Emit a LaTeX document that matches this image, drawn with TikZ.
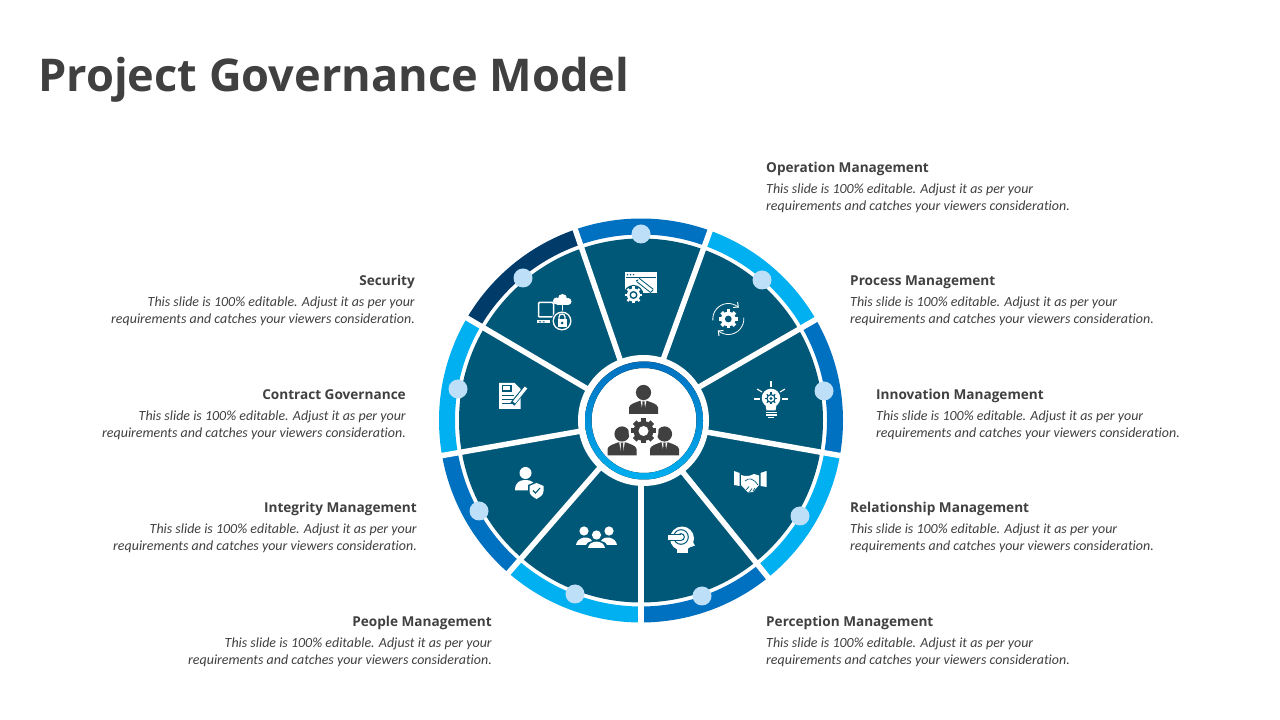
\documentclass[tikz,border=0pt]{standalone}
\usepackage{fontspec}
\usetikzlibrary{calc}
\setmainfont{Open Sans}
\newfontfamily\bodyfont[Ligatures=NoCommon]{Carlito}
\definecolor{sectorc}{HTML}{005878}
\definecolor{darkring}{HTML}{003B6A}
\definecolor{midring}{HTML}{0070C0}
\definecolor{lightring}{HTML}{00B0F0}
\definecolor{dotc}{HTML}{BDDFF8}
\definecolor{inkc}{HTML}{404040}
\tikzset{
 titletext/.style={inner sep=0pt,anchor=base west,font=\fontsize{45.15}{46}\selectfont\bfseries,text=inkc},
 headl/.style={inner sep=0pt,anchor=base west,font=\fontsize{13.6}{14}\selectfont\bfseries,text=inkc},
 headr/.style={inner sep=0pt,anchor=base east,font=\fontsize{13.6}{14}\selectfont\bfseries,text=inkc},
 bodyl/.style={inner sep=0pt,anchor=base west,font=\bodyfont\fontsize{13.96}{15}\selectfont\itshape,text=inkc},
 bodyr/.style={inner sep=0pt,anchor=base east,font=\bodyfont\fontsize{13.96}{15}\selectfont\itshape,text=inkc},
 spoke/.style={white,line width=5.5pt},
 dotm/.style={circle,fill=dotc,minimum size=19pt,inner sep=0pt},
 icon/.style={fill=white,draw=none},
 iconl/.style={draw=white,fill=none,line width=1pt},
 person/.style={fill=inkc,draw=none},
}
\newcommand{\blockL}[3]{%
 \node[headl] (#3h) at (#1,{720-#2-6}) {\csname h#3\endcsname};
 \node[bodyl] (#3a) at (#1,{720-#2-6-21}) {This slide is 100\% editable. Adjust it as per your};
 \node[bodyl] (#3b) at (#1,{720-#2-6-38}) {requirements and catches your viewers consideration.};
}
\newcommand{\blockR}[3]{%
 \node[headr] (#3h) at (#1,{720-#2-6}) {\csname h#3\endcsname};
 \node[bodyr] (#3a) at (#1,{720-#2-6-21}) {This slide is 100\% editable. Adjust it as per your};
 \node[bodyr] (#3b) at (#1,{720-#2-6-38}) {requirements and catches your viewers consideration.};
}
\newcommand{\hop}{Operation Management}
\newcommand{\hpr}{Process Management}
\newcommand{\hin}{Innovation Management}
\newcommand{\hre}{Relationship Management}
\newcommand{\hpc}{Perception Management}
\newcommand{\hpe}{People Management}
\newcommand{\hig}{Integrity Management}
\newcommand{\hco}{Contract Governance}
\newcommand{\hse}{Security}
\newcommand{\suit}[2]{%
 \fill[person] (#1,{720-#2}) circle (7.6);
 \fill[person] ({#1-14.5},{720-#2-21.5}) -- ({#1-14.5},{720-#2-15}) .. controls ({#1-14},{720-#2-11.5}) and ({#1-8},{720-#2-10}) .. ({#1-4},{720-#2-8.5}) -- ({#1+4},{720-#2-8.5}) .. controls ({#1+8},{720-#2-10}) and ({#1+14},{720-#2-11.5}) .. ({#1+14.5},{720-#2-15}) -- ({#1+14.5},{720-#2-21.5}) -- cycle;
 \fill[white] ({#1-2.8},{720-#2-8.5}) -- ({#1+2.8},{720-#2-8.5}) -- ({#1+1.2},{720-#2-17}) -- ({#1-1.2},{720-#2-17}) -- cycle;
 \fill[person] ({#1-1.1},{720-#2-9}) -- ({#1+1.1},{720-#2-9}) -- ({#1+1.4},{720-#2-17}) -- ({#1},{720-#2-19}) -- ({#1-1.4},{720-#2-17}) -- cycle;
}
\begin{document}
\begin{tikzpicture}[x=1pt,y=1pt]
\useasboundingbox (0,0) rectangle (1280,720);
\fill[white] (0,0) rectangle (1280,720);
\node[titletext] (title) at (38,{720-91.5}) {Project Governance Model};
\blockL{766}{167}{op}
\blockL{850}{280}{pr}
\blockL{876}{394}{in}
\blockL{850}{507}{re}
\blockL{766}{621}{pc}
\blockR{492}{621}{pe}
\blockR{417}{507}{ig}
\blockR{406}{394}{co}
\blockR{415}{280}{se}
% wheel
\begin{scope}[shift={(641,299.5)}]
 \foreach \s/\e/\c in {70/109/midring,30/70/lightring,-10/30/midring,-51/-10/lightring,-90/-51/midring,-131/-90/lightring,-170/-131/midring,149.5/190/lightring,109/149.5/darkring}{
  \fill[\c] (\s:202) arc[start angle=\s,end angle=\e,radius=202] -- (\e:186) arc[start angle=\e,end angle=\s,radius=186] -- cycle;
 }
 \fill[sectorc] (0,0) circle (182);
 \foreach \s in {70,30,-10,-51,-90,-131,-170,149.5,109}{
  \draw[spoke] (0,0) -- (\s:206);
 }
\end{scope}
\fill[white] (643.5,299.5) circle (65.5);
\fill[top color=midring,bottom color=lightring,even odd rule] (644,299.5) circle (59) (644,299.5) circle (52.5);
% dots
\foreach \n/\x/\y in {d1/641/234,d2/762/280,d3/824/391,d4/800/516,d5/702/596,d6/575/594,d7/479/511,d8/458/389,d9/523/278}{
 \node[dotm] (\n) at (\x,{720-\y}) {};
}
% centre icon
\suit{643.5}{392.5}
\suit{622}{434}
\suit{664.5}{434}
\fill[white] (643.5,289) circle (15);
\foreach \a in {0,45,...,315}{\fill[inkc,rotate around={\a:(643.5,289)}] (641,289) rectangle (646,301.5);}
\fill[inkc] (643.5,289) circle (10);
\fill[white] (643.5,289) circle (5);
% tools window icon (top)
\fill[icon] (624.5,{720-272}) rectangle (657,{720-293.5});
\fill[sectorc] (626,{720-277.5}) rectangle (655.5,{720-278.3});
\foreach \x in {627.5,630.5,633.5}{\fill[sectorc] (\x,{720-274.7}) circle (.8);}
\draw[sectorc,line width=5pt] (638,{720-280}) -- (652,{720-291});
\draw[white,line width=3pt] (638,{720-280}) -- (652,{720-291});
\draw[sectorc,line width=1pt] (636,{720-281}) -- (638,{720-280}) (651,{720-292}) -- (653,{720-290});
\fill[sectorc] (633.5,{720-295}) circle (10);
\foreach \a in {0,45,...,135}{\draw[white,line width=2.2pt,rotate around={\a:(633.5,{720-295})}] (625,{720-295}) -- (642,{720-295});}
\fill[white] (633.5,{720-295}) circle (6.6);
\fill[sectorc] (633.5,{720-295}) circle (4);
\fill[white] (633.5,{720-295}) circle (2.4);
% security icon
\draw[iconl,line width=1.5pt,rounded corners=1pt] (538.5,{720-302.5}) rectangle (553.5,{720-317});
\fill[icon] (537,{720-320}) rectangle (550,{720-323.5});
\fill[sectorc] (539,{720-321.3}) rectangle (541,{720-322.3}) (542.5,{720-321.3}) rectangle (544.5,{720-322.3});
\fill[icon] (556.5,{720-301}) circle (3.5) (562.5,{720-298.5}) circle (4.5) (568,{720-301.5}) circle (3.5);
\fill[icon] (556.5,{720-301}) rectangle (568,{720-305});
\fill[icon] (561.8,{720-305}) rectangle (563,{720-311.5});
\fill[sectorc] (562,{720-321}) circle (10.5);
\fill[icon] (562,{720-321}) circle (9.5);
\fill[sectorc] (562,{720-321}) circle (8);
\fill[white] (557.5,{720-319}) rectangle (566.5,{720-327});
\draw[white,line width=1.3pt] (559,{720-319}) -- (559,{720-317}) arc[start angle=180,end angle=0,radius=3] -- (565,{720-319});
\fill[sectorc] (562,{720-323}) circle (1.5);
% gear cycle icon
\draw[white,line width=.8pt] (728.3,{720-319}) ++(185:15.5) arc[start angle=185,end angle=50,radius=15.5];
\draw[white,line width=.8pt] (728.3,{720-319}) ++(5:15.5) arc[start angle=5,end angle=-130,radius=15.5];
\begin{scope}[shift={(728.3,{720-319})},rotate=50]
 \draw[white,line width=1pt] (12,3.8) -- (15.5,0) -- (19,3.8);
\end{scope}
\begin{scope}[shift={(728.3,{720-319})},rotate=-130]
 \draw[white,line width=1pt] (12,3.8) -- (15.5,0) -- (19,3.8);
\end{scope}
\foreach \a in {0,45,...,315}{\fill[white,rotate around={\a:(728.3,{720-319})}] (726.5,{720-319}) rectangle (730.1,{720-309.5});}
\fill[white] (728.3,{720-319}) circle (7.3);
\fill[sectorc] (728.3,{720-319}) circle (3.4);
% bulb icon
\foreach \x/\y/\u/\v in {771/381.5/771/387, 757/389/762/392, 785/389/780/392, 754/399/760/399, 782/399/788/399}{
 \draw[white,line width=1.1pt] (\x,{720-\y}) -- (\u,{720-\v});}
\fill[icon] (771,{720-398}) circle (9.3);
\fill[icon] (765,{720-402}) -- (777,{720-402}) -- (775.5,{720-410.5}) -- (766.5,{720-410.5}) -- cycle;
\foreach \y in {412.5,415.2}{\fill[icon] (765.5,{720-\y+.7}) rectangle (776.5,{720-\y-.7});}
\fill[icon] (768,{720-417}) rectangle (774,{720-418.5});
\foreach \a in {0,45,...,135}{\draw[sectorc,line width=1.3pt,rotate around={\a:(771,{720-398.5})}] (765,{720-398.5}) -- (777,{720-398.5});}
\fill[sectorc] (771,{720-398.5}) circle (4.6);
\fill[white] (771,{720-398.5}) circle (3.2);
\fill[sectorc] (771,{720-398.5}) circle (1.6);
% handshake icon
\fill[icon] (734,{720-471}) -- (739.5,{720-473}) -- (739.5,{720-486}) -- (734,{720-485}) -- cycle;
\fill[icon] (766.5,{720-471}) -- (766.5,{720-487}) -- (760.5,{720-486}) -- (760.5,{720-473}) -- cycle;
\fill[icon] (741,{720-475}) .. controls (746,{720-477}) and (750,{720-476}) .. (754,{720-474}) -- (759,{720-475.5}) -- (759,{720-485}) -- (753,{720-492}) -- (748,{720-492.5}) -- (741,{720-485}) -- cycle;
\draw[sectorc,line width=.7pt] (745,{720-481}) .. controls (749,{720-477.5}) and (753,{720-478}) .. (758,{720-485});
\draw[sectorc,line width=.7pt] (746,{720-490}) -- (749,{720-486.5}) (749.5,{720-492}) -- (752,{720-488.5}) (753,{720-491}) -- (755,{720-488});
% head target icon
\fill[icon] (682,{720-538.5}) circle (12);
\fill[icon] (692,{720-541}) -- (695,{720-545.5}) -- (691,{720-547}) -- cycle;
\fill[icon] (676.5,{720-545}) rectangle (688,{720-553});
\draw[sectorc,line width=1pt] (681,{720-537}) circle (7.3);
\draw[sectorc,line width=1pt] (681,{720-537}) circle (3.4);
\fill[sectorc] (667.5,{720-534}) rectangle (681,{720-541});
\fill[white] (668,{720-535}) rectangle (681,{720-540});
% people trio icon
\fill[icon] (584,{720-531}) circle (4.6);
\fill[icon] (609,{720-531}) circle (4.6);
\fill[icon] (576,{720-545}) .. controls (577,{720-537}) and (589,{720-535}) .. (592,{720-541}) .. controls (588,{720-542}) and (586,{720-543}) .. (586,{720-545}) -- cycle;
\fill[icon] (617,{720-545}) .. controls (616,{720-537}) and (604,{720-535}) .. (601,{720-541}) .. controls (605,{720-542}) and (607,{720-543}) .. (607,{720-545}) -- cycle;
\fill[icon] (596.5,{720-535}) circle (4.6);
\fill[icon] (588,{720-548}) .. controls (589,{720-539.5}) and (604,{720-539.5}) .. (605,{720-548}) -- cycle;
% person shield icon
\fill[icon] (525.5,{720-473}) circle (6);
\fill[icon] (515,{720-490.5}) .. controls (515,{720-482}) and (520,{720-480}) .. (525.5,{720-480}) .. controls (531,{720-480}) and (536,{720-482}) .. (536,{720-490.5}) -- cycle;
\fill[sectorc] (528,{720-485}) -- (536.5,{720-481.5}) -- (545.5,{720-485}) -- (545.5,{720-491}) .. controls (545.5,{720-496}) and (540,{720-499}) .. (536.5,{720-501}) .. controls (533,{720-499}) and (528,{720-496}) .. (528,{720-491}) -- cycle;
\fill[icon] (529.5,{720-486}) -- (536.5,{720-483}) -- (543.5,{720-486}) -- (543.5,{720-491}) .. controls (543.5,{720-495}) and (540,{720-497}) .. (536.5,{720-499}) .. controls (533,{720-497}) and (529.5,{720-495}) .. (529.5,{720-491}) -- cycle;
\draw[sectorc,line width=1.1pt] (533,{720-490.5}) -- (535.5,{720-493}) -- (540,{720-488});
% document icon
\fill[icon] (499,{720-383}) -- (514.5,{720-383}) -- (520.5,{720-389}) -- (520.5,{720-409}) -- (499,{720-409}) -- cycle;
\fill[sectorc] (501.5,{720-385}) rectangle (511.5,{720-392});
\fill[white] (503,{720-386.5}) rectangle (510,{720-390.5});
\foreach \y in {395.5,399.5,403.5}{\fill[sectorc] (502,{720-\y}) rectangle (514,{720-\y-1});}
\draw[sectorc,line width=5pt] (512.5,{720-404}) -- (526,{720-387.5});
\draw[white,line width=3.2pt] (514,{720-402.5}) -- (526,{720-387.5});
\end{tikzpicture}
\end{document}
